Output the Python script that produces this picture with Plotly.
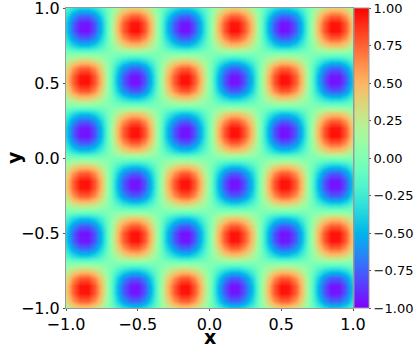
import math
import plotly.graph_objects as go

# Sample positions (data coordinates) along each axis
x_coords = [round(-1 + 0.05 * i, 2) for i in range(41)]
y_coords = [round(-1 + 0.05 * i, 2) for i in range(41)]

# Profile of the field read along a row through the blob centres (x from -1 to 1)
x_profile = [-0.41, -0.77, -0.97, -0.98, -0.79, -0.45, -0.02, 0.42, 0.77, 0.97,
             0.98, 0.79, 0.44, 0.01, -0.43, -0.78, -0.97, -0.98, -0.78, -0.44,
             0.00, 0.44, 0.78, 0.98, 0.97, 0.78, 0.43, -0.01, -0.44, -0.79,
             -0.98, -0.97, -0.77, -0.42, 0.02, 0.45, 0.79, 0.98, 0.97, 0.77, 0.41]
# Profile read along a column through the blob centres (y from -1 to 1)
y_profile = [-0.41, -0.77, -0.97, -0.98, -0.79, -0.45, -0.02, 0.42, 0.77, 0.97,
             0.98, 0.79, 0.44, 0.01, -0.43, -0.78, -0.97, -0.98, -0.78, -0.44,
             0.00, 0.44, 0.78, 0.98, 0.97, 0.78, 0.43, -0.01, -0.44, -0.79,
             -0.98, -0.97, -0.77, -0.42, 0.02, 0.45, 0.79, 0.98, 0.97, 0.77, 0.41]

axis_ticks = [-1.0, -0.5, 0.0, 0.5, 1.0]
cbar_ticks = [-1.0, -0.75, -0.5, -0.25, 0.0, 0.25, 0.5, 0.75, 1.0]

z = [[py * px for px in x_profile] for py in y_profile]

# matplotlib "rainbow" colormap
def rainbow(t):
    r = min(1.0, max(0.0, abs(2 * t - 0.5)))
    g = min(1.0, max(0.0, math.sin(math.pi * t)))
    b = min(1.0, max(0.0, math.cos(math.pi * t / 2)))
    return "rgb(%d,%d,%d)" % (round(r * 255), round(g * 255), round(b * 255))

colorscale = [[i / 20, rainbow(i / 20)] for i in range(21)]

font = "DejaVu Sans"
frame = "#999999"

fig = go.Figure(go.Heatmap(
    x=x_coords, y=y_coords, z=z,
    zmin=-1, zmax=1, zsmooth="best",
    colorscale=colorscale,
    colorbar=dict(
        x=1.0, xref="paper", xanchor="left", xpad=1,
        y=0.5, yanchor="middle", len=1, lenmode="fraction", ypad=0,
        thickness=15, outlinewidth=1, outlinecolor=frame,
        tickvals=cbar_ticks, tickformat=".2f",
        ticks="outside", ticklen=2, tickcolor="#555555",
        tickfont=dict(family=font, size=13, color="black"),
    ),
))

axis_common = dict(
    range=[-1, 1], tickvals=axis_ticks, tickformat=".1f",
    ticks="outside", ticklen=2, tickcolor="#555555",
    showline=True, mirror=True, linecolor=frame, linewidth=1,
    showgrid=False, zeroline=False, ticklabeloverflow="allow",
    automargin=False,
    tickfont=dict(family=font, size=16, color="black"),
)

fig.update_layout(
    width=415, height=351,
    margin=dict(l=66, r=62, t=8, b=43, autoexpand=False),
    paper_bgcolor="white", plot_bgcolor="white",
    xaxis=dict(**axis_common),
    yaxis=dict(**axis_common),
    annotations=[
        dict(text="<b>x</b>", x=0.5, y=-0.0, xref="paper", yref="paper",
             yshift=-29, showarrow=False, xanchor="center", yanchor="middle",
             font=dict(family=font, size=19, color="black")),
        dict(text="<b>y</b>", x=0.0, y=0.5, xref="paper", yref="paper",
             xshift=-52, showarrow=False, xanchor="center", yanchor="middle",
             textangle=-90, font=dict(family=font, size=19, color="black")),
    ],
)

fig.write_html("out.html", config={"displayModeBar": False},
               post_script="document.body.style.margin='0';document.body.style.overflow='hidden';")
